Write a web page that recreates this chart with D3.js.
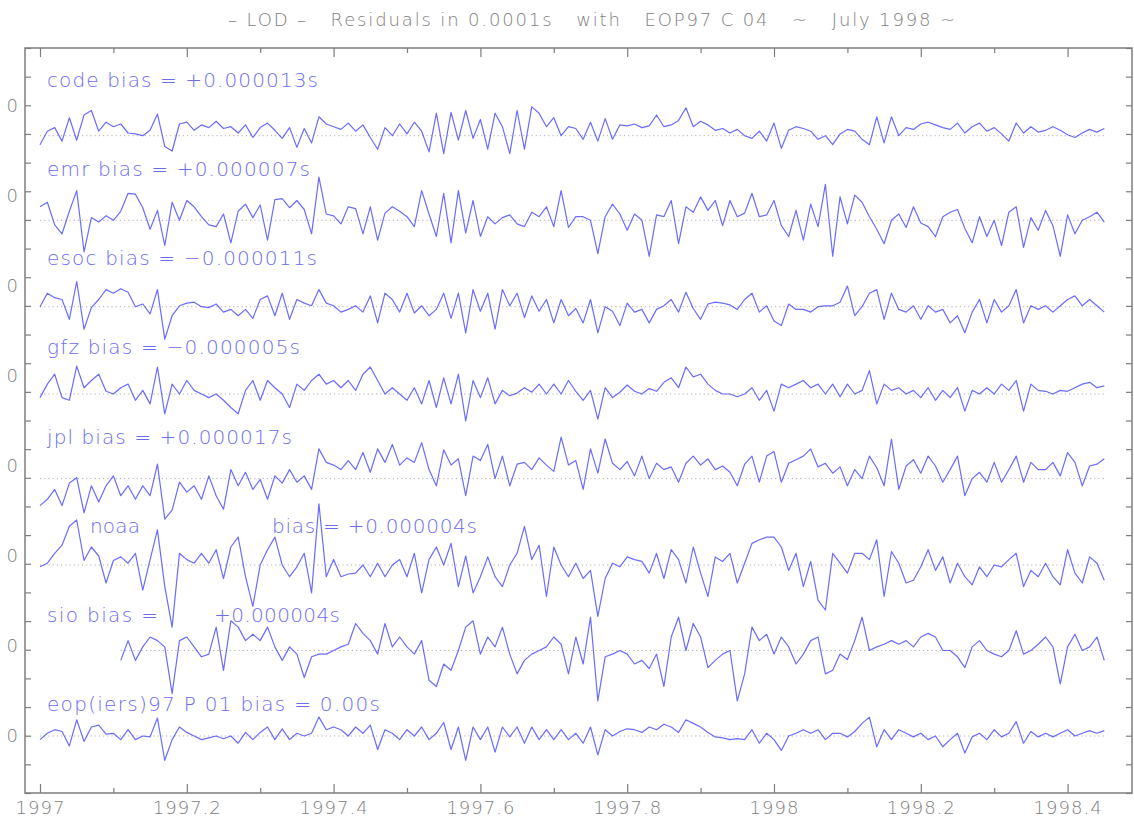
<!DOCTYPE html>
<html>
<head>
<meta charset="utf-8">
<script src="https://cdn.jsdelivr.net/npm/d3@7"></script>
<style>
  html, body { margin: 0; padding: 0; background: #fff; }
  svg { display: block; }
</style>
</head>
<body>
<div id="chart"></div>
<script>
// sample dates: one reading every 0.01 yr from 1997.00 to 1998.45
var dates = d3.range(146).map(function (i) { return 1997 + i / 100; });

var seriesNames = ["code", "emr", "esoc", "gfz", "jpl", "noaa", "sio", "eop"];
// vertical offset of each series (same units as the residuals)
var seriesOffsets = [66.7, 57.3, 47.7, 38, 28.6, 19, 9.5, 0];

// residuals, one per date
var codeValues = [-1.0,0.5,0.9,-0.6,2.0,-0.5,2.3,2.8,0.5,1.5,
  1.0,1.3,0.3,0.2,0.0,0.6,2.4,-1.2,-1.7,1.3,
  1.5,0.6,1.2,0.9,1.6,0.8,1.0,0.3,1.2,-0.2,
  0.9,1.4,0.6,-0.3,0.9,-1.3,0.8,-0.8,2.1,1.3,
  1.0,0.7,1.4,0.5,1.2,-0.2,-1.5,0.9,0.0,1.3,
  0.2,1.5,0.5,-1.8,2.5,-2.0,2.6,-0.5,2.8,-0.3,
  1.8,-1.5,2.5,1.0,-2.0,2.8,-1.5,3.2,2.5,1.0,
  2.0,0.0,1.0,0.8,-0.4,1.5,-0.6,1.9,-0.4,1.2,
  1.1,1.3,0.9,1.1,2.3,1.0,1.2,1.7,3.1,1.0,
  1.6,1.2,0.6,0.8,0.3,0.7,0.0,-0.3,0.5,-0.6,
  1.4,-1.4,0.6,1.0,0.8,0.5,-0.4,0.0,-1.0,0.2,
  0.7,0.5,-0.4,-1.0,2.1,-0.8,2.1,0.0,0.9,0.7,
  1.3,1.5,1.2,0.9,0.7,1.4,0.3,1.0,1.4,0.5,
  0.9,0.2,-0.6,1.4,0.3,1.0,0.4,0.6,1.0,0.6,
  0.1,-0.2,0.3,0.7,0.4,0.8];

var emrValues = [1.5,2.0,-0.5,-1.5,1.0,3.3,-3.5,0.3,-0.2,0.5,
  0.0,1.0,3.0,2.9,1.4,-1.0,1.1,-2.8,2.0,0.0,
  2.2,1.5,0.4,-0.5,-0.7,0.7,-2.5,1.0,1.8,0.3,
  1.7,-2.2,2.3,2.4,1.4,2.2,1.2,-1.5,4.8,0.7,
  0.5,-0.4,1.5,1.3,-1.5,1.5,-2.2,0.8,1.5,1.0,
  0.4,-0.7,3.3,0.7,-1.8,3.0,-2.5,3.3,-1.4,2.2,
  -1.8,0.4,-0.4,0.3,0.6,-0.4,-0.7,0.9,0.4,1.5,
  -0.7,3.3,-0.8,0.4,0.4,0.0,-3.7,0.4,1.8,0.7,
  -1.1,0.7,0.0,-4.0,0.6,0.4,2.2,-2.6,1.5,0.9,
  2.6,1.1,2.2,-0.6,2.2,0.4,0.8,3.0,0.4,0.6,
  2.2,-0.6,-1.8,1.1,-2.2,1.8,-0.7,4.0,-4.0,2.6,
  -0.4,2.8,2.0,0.4,-1.0,-2.6,0.0,0.7,-0.8,1.5,
  -0.3,-0.7,-1.8,0.4,0.9,1.2,-0.9,-2.5,0.4,-1.8,
  0.0,-2.8,0.9,1.5,-3.0,0.3,-1.1,1.1,-0.6,-4.0,
  0.6,-1.5,0.0,0.4,0.9,-0.2];

var esocValues = [0.0,1.5,1.0,0.8,-1.4,2.8,-2.5,-0.1,0.8,1.9,
  1.5,2.0,1.6,0.0,0.3,-0.8,1.9,-3.6,-1.0,0.1,
  0.4,0.5,0.0,-0.1,0.3,-0.6,-0.3,-1.0,-0.3,-1.3,
  0.8,1.2,-1.0,1.5,-1.4,0.8,0.4,0.1,1.9,0.4,
  0.1,-0.6,-0.3,0.1,-0.6,1.2,-1.8,1.5,0.8,-0.6,
  1.5,-0.7,0.1,-1.0,-0.3,1.5,-1.3,1.5,-2.9,1.9,
  -0.5,1.5,-2.5,1.9,0.1,1.5,-1.2,1.2,-0.5,0.8,
  -1.8,0.8,-1.0,-0.2,-1.8,0.8,-2.9,0.0,-0.5,-2.1,
  0.4,-0.6,-0.3,-1.8,-0.3,0.1,0.8,-0.6,1.6,-0.2,
  -1.4,0.3,0.5,0.4,0.2,-0.3,0.8,1.5,-0.6,0.1,
  -1.6,-2.1,0.3,-0.3,-0.3,-0.6,0.0,0.1,0.1,0.5,
  2.3,-1.0,0.0,1.5,1.9,-1.4,1.5,-0.3,-0.6,0.1,
  -1.4,0.1,-0.6,-0.3,-1.8,-1.0,-2.9,-0.6,0.8,-1.8,
  0.8,-0.6,0.1,1.9,-1.8,0.1,-0.3,0.1,-0.6,0.1,
  0.8,1.2,0.1,0.8,0.1,-0.6];

var gfzValues = [-0.4,1.1,2.2,-0.4,-0.7,3.1,0.7,1.5,2.2,0.3,
  0.0,0.7,1.1,-0.7,0.4,-1.1,3.0,-2.2,1.1,0.0,
  1.5,0.4,0.0,-0.4,0.0,-0.7,-1.5,-2.2,0.4,1.5,
  -0.7,1.5,0.7,0.0,-1.5,1.1,0.4,1.5,2.2,1.1,
  1.5,0.7,1.5,0.4,2.2,3.0,1.5,0.0,0.7,0.0,
  -0.7,0.7,-1.1,1.5,-1.5,1.8,-1.1,2.2,-3.0,1.5,
  -0.4,1.8,-1.1,0.4,-0.2,0.1,0.7,0.2,1.1,0.0,
  1.1,0.0,1.5,0.3,-0.7,0.4,-2.8,0.7,-0.4,0.2,
  1.0,0.3,0.0,0.6,0.3,1.3,1.8,0.7,3.0,1.9,
  2.2,1.1,0.4,0.0,0.0,-0.3,0.0,0.7,-0.7,0.4,
  -1.9,1.1,0.7,1.1,1.5,0.7,1.1,0.0,1.1,-0.3,
  1.1,0.0,0.4,2.6,-1.1,1.1,0.4,0.7,0.0,0.4,
  -0.4,0.7,-0.7,0.4,-0.4,0.7,-1.9,0.4,0.0,0.7,
  0.0,1.1,0.4,1.5,-1.9,1.1,0.4,0.3,0.0,0.4,
  0.3,0.7,1.1,1.3,0.7,0.9];

var jplValues = [-3.0,-2.3,-1.2,-3.0,-0.5,0.1,-3.8,-0.8,-2.6,-0.8,
  0.3,-1.9,-0.8,-2.3,-0.8,-1.9,1.6,-4.5,-3.5,-0.4,
  -1.5,-0.8,-2.3,0.3,-1.9,-3.4,1.0,-0.8,0.7,-1.2,
  -0.1,-2.3,0.3,-0.5,1.0,-0.4,0.3,-1.2,3.3,1.8,
  1.5,1.0,2.0,1.0,2.9,0.7,3.3,1.8,3.8,1.5,
  2.3,1.8,4.0,1.0,-0.8,3.2,1.5,2.2,-1.9,2.5,
  2.0,3.8,0.0,2.5,-0.8,1.6,1.8,1.0,2.3,1.5,
  0.8,4.6,1.5,2.0,-1.2,3.3,0.6,4.4,1.7,1.0,
  1.9,0.3,2.5,0.0,1.7,1.0,1.3,-0.4,1.7,2.5,
  1.5,2.2,1.0,1.4,0.7,-0.8,1.6,2.5,-0.4,2.5,
  3.0,-0.4,1.7,2.1,2.5,3.3,1.3,1.7,0.6,1.3,
  -0.8,1.0,0.0,2.5,1.2,-0.8,4.4,-1.2,1.4,2.1,
  0.6,2.5,1.4,-0.4,1.0,2.5,-1.9,0.0,0.7,-0.4,
  1.8,-0.4,1.0,2.5,-0.4,1.8,1.0,1.0,1.8,0.3,
  2.9,1.8,-0.8,1.4,1.6,2.2];

var noaaValues = [-0.2,0.2,1.3,2.2,4.3,5.0,0.5,2.0,1.0,-2.0,
  0.5,0.9,0.2,1.3,-2.8,0.6,3.9,-2.4,-6.9,1.3,
  0.6,0.2,1.3,0.2,1.7,-1.5,2.0,3.1,-1.3,-4.6,
  0.0,1.7,3.1,0.0,-1.3,-0.2,1.3,-3.1,6.8,-1.3,
  0.6,-1.3,-1.0,-0.9,0.0,-1.3,0.2,-1.3,0.0,0.6,
  -1.3,1.3,-3.1,0.6,2.0,0.0,2.4,-2.4,1.0,-3.1,
  -1.3,0.9,-1.3,-2.4,0.0,1.3,4.3,0.6,2.2,-3.5,
  2.0,0.0,-1.3,0.2,-1.5,-0.6,-5.7,-1.5,0.2,-0.2,
  0.9,0.6,0.4,-0.9,1.3,-1.5,1.7,0.6,-2.0,2.0,
  -0.9,-3.5,0.9,0.4,1.3,-2.0,0.2,2.4,2.8,3.1,
  3.1,2.0,-0.6,1.3,-2.4,0.4,-3.9,-5.0,1.3,0.2,
  -0.9,1.3,1.3,0.6,2.8,-3.5,1.5,0.2,-2.0,-1.7,
  -0.2,1.7,-0.6,0.9,-2.0,0.2,-1.3,-2.2,-0.2,-1.3,
  0.0,-0.2,0.6,1.3,-2.4,-0.6,-1.3,0.2,-1.3,-2.2,
  1.7,-0.9,-2.0,0.9,0.2,-1.7];

// sio starts later (null = no value)
var sioValues = [null,null,null,null,null,null,null,null,null,null,
  null,-1.1,1.1,-1.1,0.4,1.5,1.1,0.4,-4.8,1.1,
  1.5,0.4,-0.7,-0.4,2.6,-2.2,3.3,2.6,1.1,1.8,
  1.1,2.6,0.4,-1.1,0.4,-0.4,-3.0,-0.7,-0.4,-0.4,
  0.0,0.4,0.7,3.0,1.9,1.1,-0.4,3.0,0.4,1.5,
  0.4,-0.4,1.1,-3.3,-4.0,-1.5,-2.2,0.0,2.6,3.3,
  -0.4,1.5,0.4,2.6,-0.4,-2.6,-1.1,-0.4,0.0,0.4,
  1.5,0.7,-2.6,1.5,-1.5,3.7,-5.6,-0.7,-0.4,0.0,
  -0.4,-1.5,-1.1,-2.0,-0.4,-4.0,1.5,3.7,0.0,3.0,
  1.5,-1.9,-1.1,-0.4,0.0,-5.6,-2.6,2.6,1.1,1.8,
  -0.4,1.5,0.4,-1.5,-0.4,1.1,1.5,-2.6,-2.2,-0.4,
  -1.0,1.1,3.7,0.0,0.4,0.7,1.1,0.7,1.1,0.4,
  1.5,1.9,1.5,0.0,0.0,-0.7,-1.9,0.4,1.1,0.0,
  -0.4,-0.7,0.0,2.2,-0.4,0.0,0.7,1.5,0.4,-3.7,
  0.4,1.8,0.0,0.4,1.5,-1.1];

var eopValues = [-0.4,0.3,0.7,0.5,-1.1,1.8,-0.6,1.0,1.2,0.2,
  0.3,-0.4,0.7,-0.4,0.0,-0.1,2.0,-2.7,-0.4,1.0,
  0.4,0.0,-0.4,-0.2,0.0,-0.3,0.0,-0.8,0.4,-0.4,
  0.4,1.0,-0.4,0.8,-0.4,0.3,0.0,0.3,2.1,0.7,
  1.0,0.7,0.0,1.0,0.3,1.2,-1.5,0.7,0.3,-0.4,
  0.7,0.0,1.0,-0.4,0.3,1.5,-1.5,1.0,-2.7,1.0,
  -0.4,1.0,-1.8,1.0,-0.1,1.0,-0.8,1.0,-0.4,0.7,
  -0.4,0.7,-0.4,0.3,-0.8,1.0,-2.1,0.7,0.0,0.5,
  0.8,0.7,0.4,1.0,0.7,1.3,1.0,0.4,1.8,1.4,
  1.0,0.4,-0.1,-0.2,-0.4,-0.3,-0.4,0.7,-0.8,0.3,
  -0.4,-1.6,0.0,0.3,0.7,0.3,0.7,-0.4,0.3,0.3,
  -0.1,0.5,1.4,2.1,-1.2,0.7,-0.4,0.7,0.3,-0.1,
  0.3,-0.4,0.0,-1.2,-0.4,0.3,-1.9,-0.1,0.3,-0.4,
  0.7,-0.1,0.3,1.6,-0.8,0.5,-0.1,0.3,-0.1,0.3,
  0.7,0.0,0.3,0.6,0.3,0.6];

var seriesValues = [codeValues, emrValues, esocValues, gfzValues,
  jplValues, noaaValues, sioValues, eopValues];

// label text for each series (split where the picture leaves a gap)
var biasLabels = [
  ["code bias = +0.000013s"],
  ["emr bias = +0.000007s"],
  ["esoc bias = \u22120.000011s"],
  ["gfz bias = \u22120.000005s"],
  ["jpl bias = +0.000017s"],
  ["noaa", "bias = +0.000004s"],
  ["sio bias =", "+0.000004s"],
  ["eop(iers)97 P 01 bias = 0.00s"]
];

var yearTicks = [1997, 1997.2, 1997.4, 1997.6, 1997.8, 1998, 1998.2, 1998.4];
var yearTickLabels = ["1997", "1997.2", "1997.4", "1997.6", "1997.8", "1998", "1998.2", "1998.4"];
var minorYearTicks = [1997.1, 1997.3, 1997.5, 1997.7, 1997.9, 1998.1, 1998.3];
var yLabelValues = [0, 10, 20, 30, 40, 50, 60, 70];
var titleText = "\u2013 LOD \u2013   Residuals in 0.0001s   with   EOP97 C 04   ~   July 1998 ~";

// ---------------------------------------------------------------- layout
var width = 1134, height = 826;
var frame = { left: 25, right: 1132, top: 48, bottom: 793 };
var axisColor = '#7d7d7d';
var lineColor = '#4646ff';
var labelColor = '#6c6cf2';

// piece positions [start, end] in px for the label pieces
var labelSpans = [
  [[47, 318]], [[47, 310]], [[47, 317]], [[47, 300]], [[47, 292]],
  [[90, 140], [272, 477]], [[47, 158], [214, 340]], [[47, 380]]
];

var x = d3.scaleLinear().domain([1997, 1998]).range([40, 774]);
var y = d3.scaleLinear().domain([0, 70]).range([736, 106]);

var svg = d3.select('#chart').append('svg')
  .attr('width', width)
  .attr('height', height)
  .style('font-family', '"DejaVu Sans", sans-serif');

svg.append('rect').attr('width', width).attr('height', height).attr('fill', '#fff');

// title
svg.append('text')
  .attr('x', 228)
  .attr('y', 26)
  .attr('xml:space', 'preserve')
  .style('white-space', 'pre')
  .attr('textLength', 727)
  .attr('lengthAdjust', 'spacing')
  .style('font-size', '18px')
  .style('font-weight', 300)
  .attr('fill', axisColor)
  .text(titleText);

// frame
svg.append('rect')
  .attr('x', frame.left)
  .attr('y', frame.top)
  .attr('width', frame.right - frame.left)
  .attr('height', frame.bottom - frame.top)
  .attr('fill', 'none')
  .attr('stroke', axisColor)
  .attr('stroke-width', 1.5);

// x ticks (inside, top and bottom)
function xTicks(axisFn, ty, values, size) {
  var g = svg.append('g')
    .attr('transform', 'translate(0,' + ty + ')')
    .call(axisFn(x).tickValues(values).tickSize(size).tickFormat(''));
  g.select('.domain').remove();
  g.selectAll('line').attr('stroke', axisColor).attr('stroke-width', 1.2);
  return g;
}
xTicks(d3.axisTop, frame.bottom, yearTicks, 9);
xTicks(d3.axisTop, frame.bottom, minorYearTicks, 5);
xTicks(d3.axisBottom, frame.top, yearTicks, 9);
xTicks(d3.axisBottom, frame.top, minorYearTicks, 5);

// x labels
var xLab = svg.append('g')
  .attr('transform', 'translate(0,' + frame.bottom + ')')
  .call(d3.axisBottom(x).tickValues(yearTicks).tickSize(0).tickPadding(8)
    .tickFormat(function (d, i) { return yearTickLabels[i]; }));
xLab.select('.domain').remove();
xLab.selectAll('text')
  .attr('fill', axisColor)
  .style('font-size', '18px')
  .style('font-weight', 300)
  .style('font-family', '"DejaVu Sans", sans-serif')
  .style('letter-spacing', '1px');

// y ticks: 26 even intervals over the frame height
var yTickValues = d3.range(27).map(function (i) {
  return y.invert(frame.bottom - i * (frame.bottom - frame.top) / 26);
});
function yTicks(axisFn, tx) {
  var g = svg.append('g')
    .attr('transform', 'translate(' + tx + ',0)')
    .call(axisFn(y).tickValues(yTickValues).tickSize(6).tickFormat(''));
  g.select('.domain').remove();
  g.selectAll('line').attr('stroke', axisColor).attr('stroke-width', 1.2);
}
yTicks(d3.axisRight, frame.left);
yTicks(d3.axisLeft, frame.right);

// y labels (only the last digit shows)
var yLab = svg.append('g')
  .attr('transform', 'translate(' + frame.left + ',0)')
  .call(d3.axisLeft(y).tickValues(yLabelValues).tickSize(0).tickPadding(7)
    .tickFormat(function () { return '0'; }));
yLab.select('.domain').remove();
yLab.selectAll('text')
  .attr('fill', axisColor)
  .style('font-size', '18px')
  .style('font-weight', 300)
  .style('font-family', '"DejaVu Sans", sans-serif');

// zero lines (dotted) and series
var line = d3.line()
  .defined(function (d) { return d.v !== null; })
  .x(function (d) { return x(d.t); })
  .y(function (d) { return y(d.v); });

seriesNames.forEach(function (name, s) {
  var off = seriesOffsets[s];
  var pts = dates.map(function (t, i) {
    var v = seriesValues[s][i];
    return { t: t, v: v === null ? null : off + v };
  });
  var valid = pts.filter(function (d) { return d.v !== null; });
  var zero = [valid[0], valid[valid.length - 1]].map(function (d) { return { t: d.t, v: off }; });

  svg.append('path')
    .datum(zero)
    .attr('class', 'zero-' + name)
    .attr('d', line)
    .attr('fill', 'none')
    .attr('stroke', '#b0b0b0')
    .attr('stroke-width', 1)
    .attr('stroke-dasharray', '1.2,3');

  svg.append('path')
    .datum(pts)
    .attr('class', 'series-' + name)
    .attr('d', line)
    .attr('fill', 'none')
    .attr('stroke', lineColor)
    .attr('stroke-width', 1.2)
    .attr('stroke-opacity', 0.8)
    .attr('stroke-linejoin', 'round');
});

// series labels
biasLabels.forEach(function (pieces, s) {
  var base = y(72.1 - 9.9 * s);
  pieces.forEach(function (txt, j) {
    var span = labelSpans[s][j];
    svg.append('text')
      .attr('x', span[0])
      .attr('y', base)
      .attr('textLength', span[1] - span[0])
      .attr('lengthAdjust', 'spacing')
      .style('font-size', '20px')
      .style('font-weight', 300)
      .attr('fill', labelColor)
      .text(txt);
  });
});
</script>
</body>
</html>
